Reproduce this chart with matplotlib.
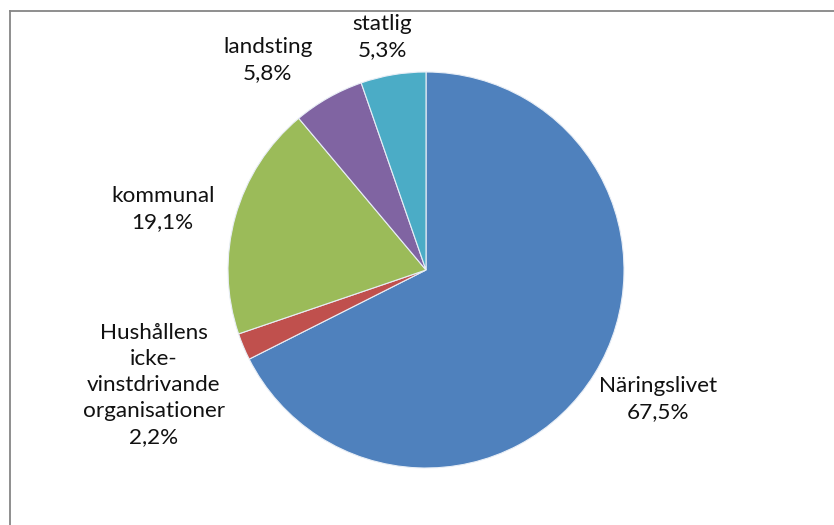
import matplotlib.pyplot as plt
from matplotlib.lines import Line2D

sectors = ['Näringslivet', 'Hushållens\nicke-\nvinstdrivande\norganisationer',
           'kommunal', 'landsting', 'statlig']
shares = [67.5, 2.2, 19.1, 5.8, 5.3]
colors = ['#4F81BD', '#C0504D', '#9BBB59', '#8064A2', '#4BACC6']

# label anchor positions in pie units (radius = 1)
label_xy = [(1.17, -0.652), (-1.374, -0.58), (-1.33, 0.308), (-0.80, 1.06), (-0.22, 1.175)]

W, H = 834, 525
cx, cy, r = 426, 270, 198

fig = plt.figure(figsize=(W / 100, H / 100), dpi=100)
ax = fig.add_axes([0, 0, 1, 1])
ax.axis('off')

ax.pie(shares, colors=colors, startangle=90, counterclock=False, radius=1,
       wedgeprops=dict(edgecolor='#e8eef6', linewidth=0.8))
ax.set_xlim(-cx / r, (W - cx) / r)
ax.set_ylim(-(H - cy) / r, cy / r)
ax.set_aspect('equal')

for name, share, (x, y) in zip(sectors, shares, label_xy):
    txt = '{}\n{}%'.format(name, '{:.1f}'.format(share).replace('.', ','))
    ax.text(x, y, txt, ha='center', va='center', fontsize=16.2,
            family='Lato', linespacing=1.38, color='#111111')

# chart frame (top and left edges visible)
fig.add_artist(Line2D([9.5 / W, 9.5 / W], [0, 1 - 11 / H], transform=fig.transFigure,
                      color='#868686', linewidth=1.3))
fig.add_artist(Line2D([9.5 / W, 1], [1 - 11 / H, 1 - 11 / H], transform=fig.transFigure,
                      color='#868686', linewidth=1.3))

fig.savefig('out.png', dpi=100)
